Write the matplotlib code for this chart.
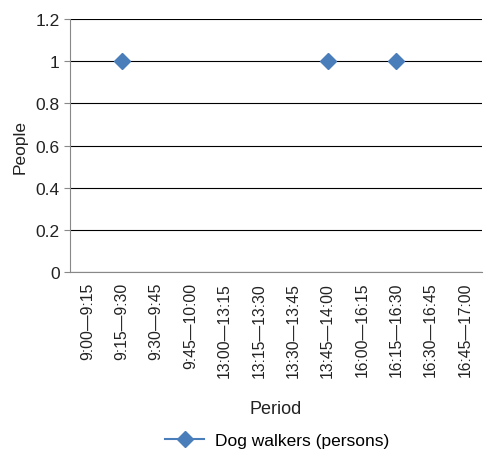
import numpy as np
import matplotlib
matplotlib.use('Agg')
from matplotlib import pyplot as plt

plt.rcParams['font.family'] = ['Liberation Sans', 'DejaVu Sans']

periods = ['9:00\u20149:15', '9:15\u20149:30', '9:30\u20149:45', '9:45\u201410:00',
           '13:00\u201413:15', '13:15\u201413:30', '13:30\u201413:45', '13:45\u201414:00',
           '16:00\u201416:15', '16:15\u201416:30', '16:30\u201416:45', '16:45\u201417:00']
dog_walkers = [np.nan, 1, np.nan, np.nan, np.nan, np.nan, np.nan, 1, np.nan, 1, np.nan, np.nan]

fig = plt.figure(figsize=(4.84, 4.56), dpi=100)
ax = fig.add_axes([0.145, 0.401, 0.851, 0.555])

x = np.arange(len(periods))
ax.plot(x, dog_walkers, color='#4a7ebb', marker='D', markersize=8, linewidth=1.5,
        label='Dog walkers (persons)')

ax.set_xlim(-0.5, len(periods) - 0.5)
ax.set_ylim(0, 1.2)
ax.set_yticks(np.arange(0, 1.21, 0.2))
ax.set_yticklabels(['0', '0.2', '0.4', '0.6', '0.8', '1', '1.2'])
ax.yaxis.grid(True, color='black', linewidth=0.8)
ax.set_axisbelow(True)

ax.set_xticks(x)
ax.set_xticklabels(periods, rotation=90)
ax.tick_params(axis='x', length=0, pad=7, labelsize=11.3, colors='#222222')
ax.tick_params(axis='y', length=4, color='#888888', labelcolor='#222222', labelsize=12.5)

for side in ['top', 'right']:
    ax.spines[side].set_visible(False)
for side in ['left', 'bottom']:
    ax.spines[side].set_color('#888888')

ax.set_ylabel('People', fontsize=12.5, color='#222222', labelpad=6)
ax.set_xlabel('Period', fontsize=13, color='#222222', labelpad=17)

fig.legend(loc='center', bbox_to_anchor=(0.572, 0.031), frameon=False, fontsize=12.5,
           handlelength=2.3, handletextpad=0.6)

fig.savefig('out.png', dpi=100)
